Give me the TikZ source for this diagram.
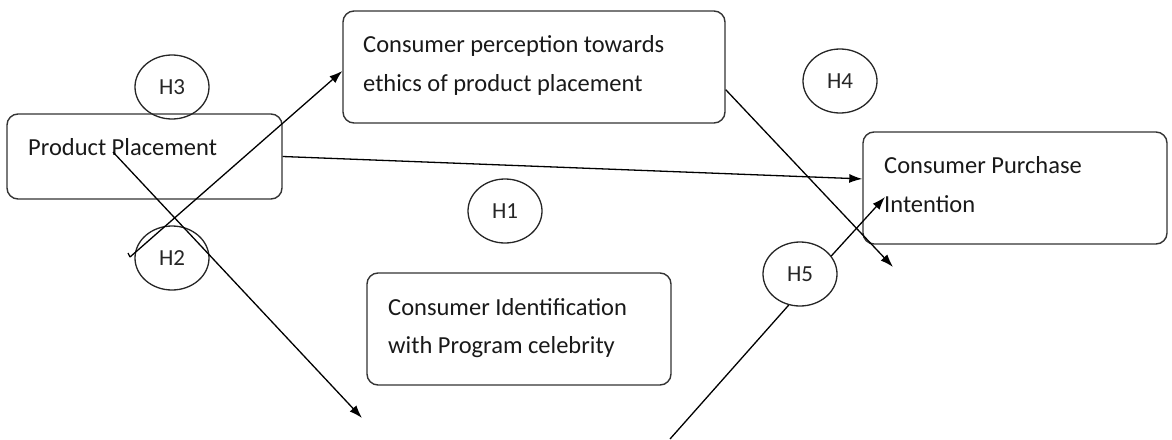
\documentclass[tikz,border=0pt]{standalone}
\usepackage{fontspec}
\setmainfont{Carlito}
\usetikzlibrary{calc,arrows.meta,shapes.geometric}

\begin{document}
\begin{tikzpicture}[x=1pt,y=-1pt,
	box/.style={draw=black!80, line width=1.4pt, rounded corners=11pt, inner sep=0pt},
	hyp/.style={draw=black!85, line width=1.3pt, ellipse, minimum width=74pt, minimum height=64pt, inner sep=0pt, text=black!85, font=\fontsize{23}{26}\selectfont},
	txt/.style={anchor=base west, inner sep=0pt, text=black!90, font=\fontsize{24.5}{28}\selectfont},
	link/.style={line width=1.3pt, -{Latex[length=13pt,width=9pt]}}]
	\useasboundingbox (0,0) rectangle (1172,439);
	% boxes
	\node[box, minimum width=275pt, minimum height=85pt] (pp) at (144.5,156.5) {};
	\node[box, minimum width=382pt, minimum height=112pt] (ethics) at (534,67) {};
	\node[box, minimum width=304pt, minimum height=112pt] (cpi) at (1015,188) {};
	\node[box, minimum width=304pt, minimum height=112pt] (cid) at (519,329) {};
	\node[txt] (pp-t) at (28,155) {Product Placement};
	\node[txt] (ethics-t1) at (363,52) {Consumer perception towards};
	\node[txt] (ethics-t2) at (363,91) {ethics of product placement};
	\node[txt] (cpi-t1) at (884,173) {Consumer Purchase};
	\node[txt] (cpi-t2) at (884,212) {Intention};
	\node[txt] (cid-t1) at (388,315) {Consumer Identification};
	\node[txt] (cid-t2) at (388,353) {with Program celebrity};
	% hypotheses
	\node[hyp] (h3) at (172,87) {H3};
	\node[hyp] (h2) at (172,258) {H2};
	\node[hyp] (h1) at (505,211) {H1};
	\node[hyp] (h4) at (840,81) {H4};
	\node[hyp] (h5) at (800,274) {H5};
	% loose ends
	\coordinate (a0) at (130,257);
	\coordinate (b0) at (113,152);
	\coordinate (b1) at (362,418);
	\coordinate (c1) at (893,267);
	\coordinate (d1) at (885,197);
	\coordinate (e0) at (670,439);
	% paths
	\draw[line width=1.3pt] (a0) -- ++(-2,-4);
	\draw[link] (a0) -- (ethics.west |- 0,71);
	\draw[link] (b0) -- (b1);
	\draw[link] (pp.east) -- ($(cpi.north west)!0.42!(cpi.south west)$);
	\draw[link] ($(ethics.north east)!0.7!(ethics.south east)$) -- (c1);
	\draw[link] (h5.30) -- (d1);
	\draw[line width=1.3pt] (e0) -- (h5.250);
\end{tikzpicture}
\end{document}
